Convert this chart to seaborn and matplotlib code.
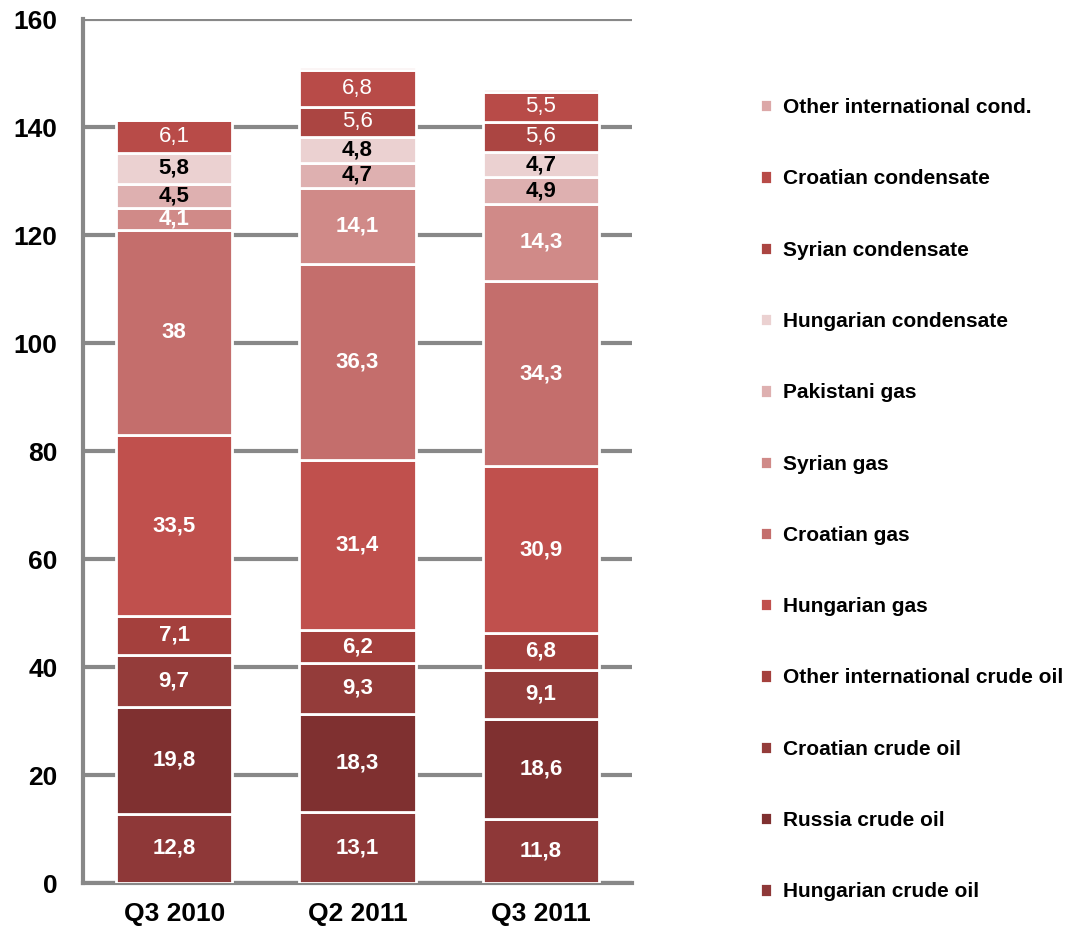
import numpy as np
import pandas as pd
import seaborn as sns
import matplotlib.pyplot as plt

quarters = ["Q3 2010", "Q2 2011", "Q3 2011"]

# series from bottom of the stack to the top
hungarian_crude = [12.8, 13.1, 11.8]
russia_crude = [19.8, 18.3, 18.6]
croatian_crude = [9.7, 9.3, 9.1]
other_intl_crude = [7.1, 6.2, 6.8]
hungarian_gas = [33.5, 31.4, 30.9]
croatian_gas = [38.0, 36.3, 34.3]
syrian_gas = [4.1, 14.1, 14.3]
pakistani_gas = [4.5, 4.7, 4.9]
hungarian_cond = [5.8, 4.8, 4.7]
syrian_cond = [0.0, 5.6, 5.6]
croatian_cond = [6.1, 6.8, 5.5]
other_intl_cond = [0.0, 0.5, 0.5]

series_names = ["Hungarian crude oil", "Russia crude oil", "Croatian crude oil",
                "Other international crude oil", "Hungarian gas", "Croatian gas",
                "Syrian gas", "Pakistani gas", "Hungarian condensate",
                "Syrian condensate", "Croatian condensate", "Other international cond."]
series_values = [hungarian_crude, russia_crude, croatian_crude, other_intl_crude,
                 hungarian_gas, croatian_gas, syrian_gas, pakistani_gas,
                 hungarian_cond, syrian_cond, croatian_cond, other_intl_cond]
colors = ["#8e3838", "#7f3030", "#943c3a", "#a4403d", "#c0504d", "#c46e6c",
          "#d08a88", "#deb0b0", "#ebd1d1", "#ab4542", "#b84b48", "#dca8a8"]
# label style per series: (colour, weight), None = no label
label_style = [("white", "bold")] * 7 + [("black", "bold")] * 2 + \
              [("white", "normal")] * 2 + [None]

sns.set_style("white")
plt.rcParams['font.family'] = ['Liberation Sans', 'DejaVu Sans']

fig = plt.figure(figsize=(10.72, 9.4), dpi=100)
ax = fig.add_axes([0.077, 0.0606, 0.513, 0.919])

bottom = np.zeros(len(quarters))
for name, vals, col, style in zip(series_names, series_values, colors, label_style):
    df = pd.DataFrame({"quarter": quarters, "value": vals})
    sns.barplot(data=df, x="quarter", y="value", bottom=bottom, color=col,
                saturation=1, width=0.635, edgecolor="white", linewidth=2,
                label=name, ax=ax, zorder=3)
    cont = ax.containers[-1]
    if style is not None:
        labels = [("%g" % v).replace(".", ",") if v > 0 else "" for v in vals]
        ax.bar_label(cont, labels=labels, label_type="center", color=style[0],
                     fontweight=style[1], fontsize=16)
    bottom = bottom + np.array(vals)

if ax.legend_ is not None:
    ax.legend_.remove()

ax.set_ylim(0, 160)
ax.set_xlim(-0.5, 2.5)
ax.set_yticks(np.arange(0, 161, 20))
ax.yaxis.grid(True, color="#888888", linewidth=3, zorder=0)
ax.set_axisbelow(True)
ax.set_xlabel("")
ax.set_ylabel("")
for s in ["top", "right"]:
    ax.spines[s].set_visible(False)
ax.spines["left"].set_color("#888888")
ax.spines["left"].set_linewidth(3)
ax.spines["bottom"].set_color("#888888")
ax.spines["bottom"].set_linewidth(3)
ax.tick_params(axis="y", length=0, pad=18, labelsize=19, labelcolor="black")
ax.tick_params(axis="x", length=0, pad=14, labelsize=19, labelcolor="black")
for t in ax.get_xticklabels() + ax.get_yticklabels():
    t.set_fontweight("bold")

handles, labs = ax.get_legend_handles_labels()
leg = fig.legend(handles[::-1], labs[::-1], loc="upper left",
                 bbox_to_anchor=(0.701, 0.9045), frameon=False, fontsize=15,
                 handlelength=0.6, handleheight=0.6, handletextpad=0.5,
                 labelspacing=2.51, borderaxespad=0, labelcolor="black")
for t in leg.get_texts():
    t.set_fontweight("bold")

fig.savefig("out.png", dpi=100)
